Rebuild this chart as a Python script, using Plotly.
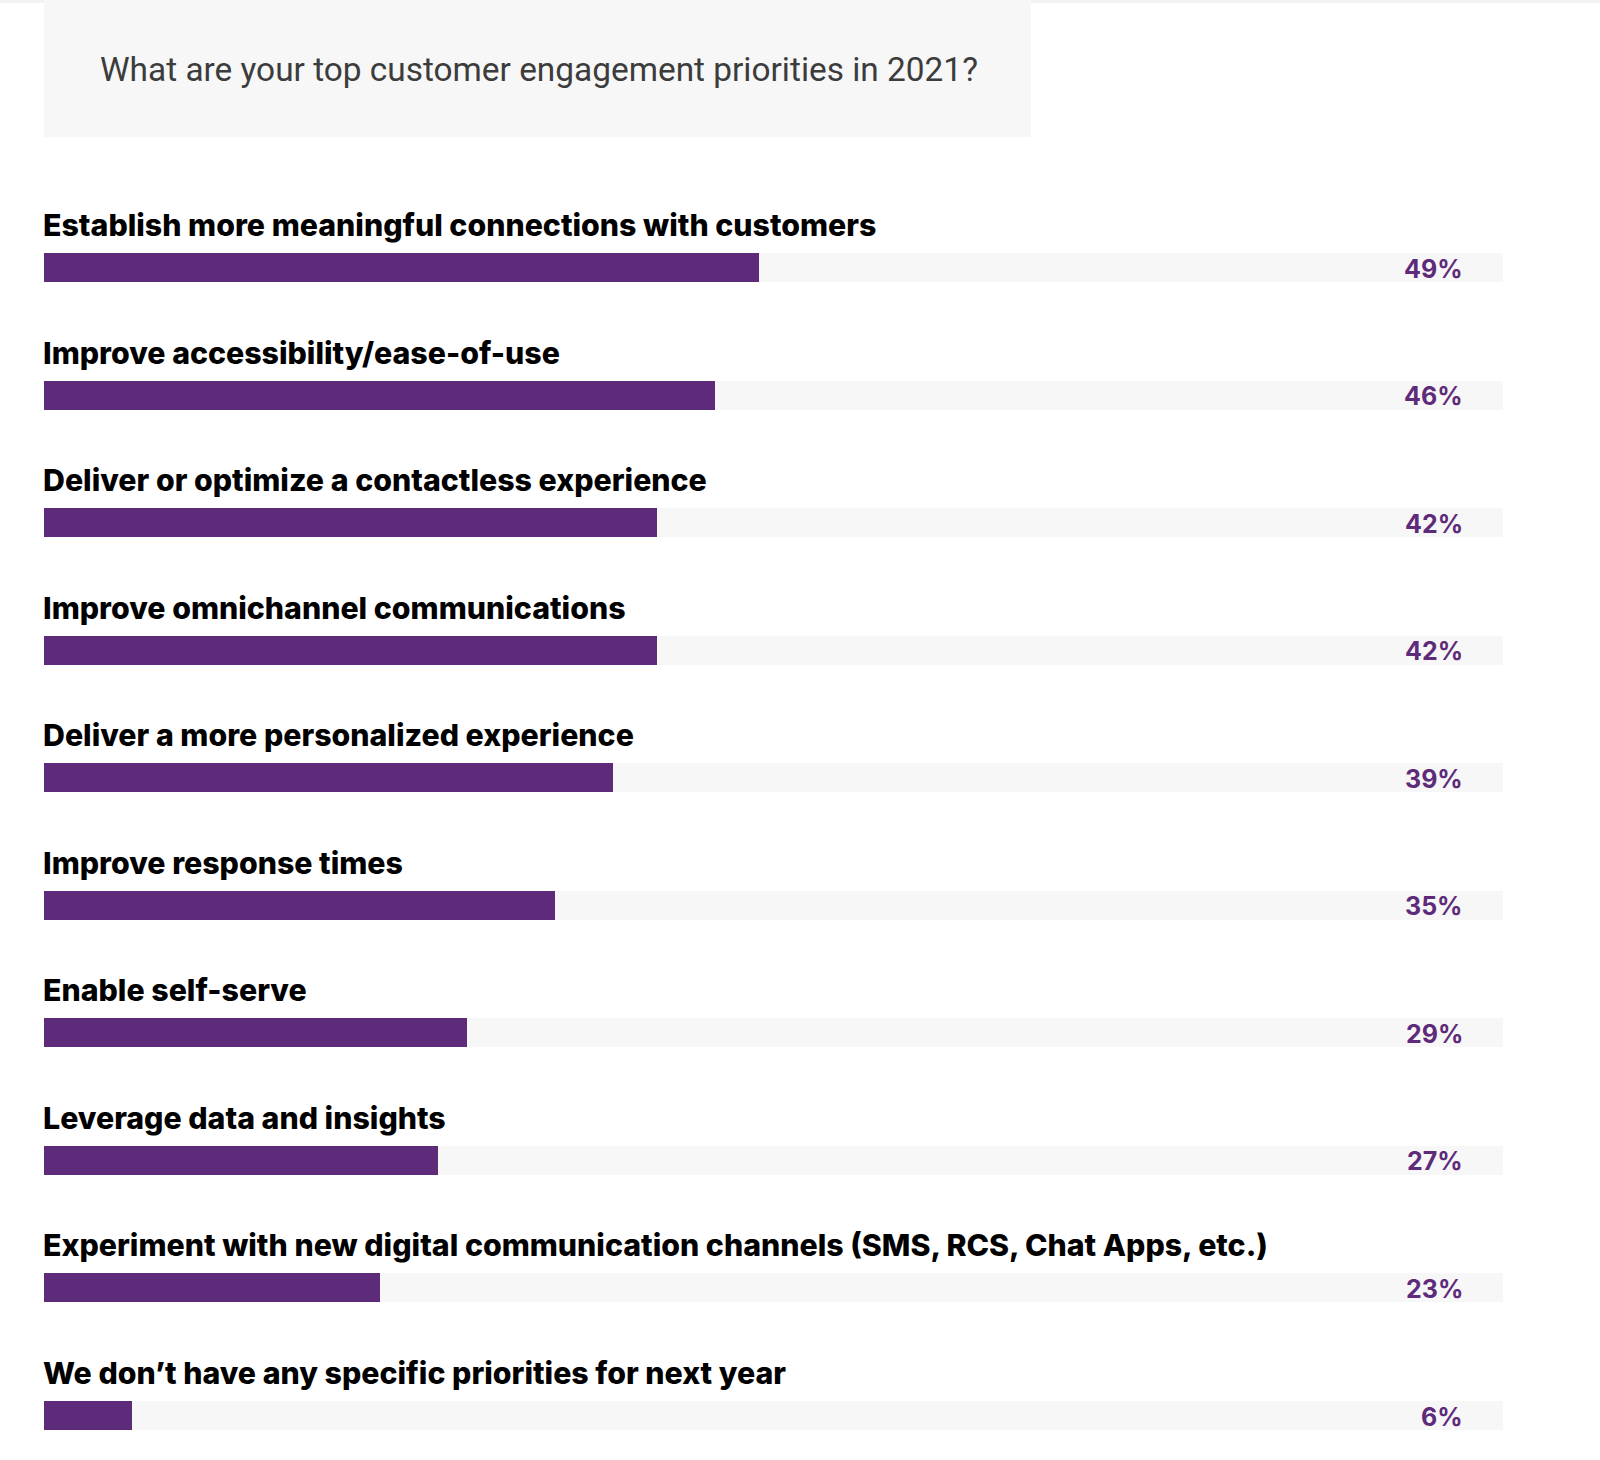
import plotly.graph_objects as go

categories = [
    "Establish more meaningful connections with customers",
    "Improve accessibility/ease-of-use",
    "Deliver or optimize a contactless experience",
    "Improve omnichannel communications",
    "Deliver a more personalized experience",
    "Improve response times",
    "Enable self-serve",
    "Leverage data and insights",
    "Experiment with new digital communication channels (SMS, RCS, Chat Apps, etc.)",
    "We don\u2019t have any specific priorities for next year",
]
values = [49, 46, 42, 42, 39, 35, 29, 27, 23, 6]
title_text = "What are your top customer engagement priorities in 2021?"

W, H = 1600, 1460
PURPLE = "#5e2b7a"
LIGHT = "#f7f7f7"

# pixel geometry
x_left_px, x_right_px = 44, 1503
first_center_px, step_px = 267.5, 127.56
bar_h_px = 29

px_per_unit = (x_right_px - x_left_px) / 100.0
xa = -x_left_px / px_per_unit
xb = xa + W / px_per_unit
y_top = -first_center_px / step_px
y_bot = (H - first_center_px) / step_px
bw = bar_h_px / step_px

idx = list(range(len(categories)))

fig = go.Figure()
fig.add_trace(go.Bar(
    x=[100] * len(idx), y=idx, orientation="h", width=bw,
    marker=dict(color=LIGHT, line=dict(width=0)), hoverinfo="skip", showlegend=False,
))
fig.add_trace(go.Bar(
    x=values, y=idx, orientation="h", width=bw,
    marker=dict(color=PURPLE, line=dict(width=0)), showlegend=False,
    hovertext=categories, hoverinfo="text+x",
))

annotations = []
for i, (c, v) in enumerate(zip(categories, values)):
    annotations.append(dict(
        x=0, y=i, xref="x", yref="y", text=c, showarrow=False,
        xanchor="left", yanchor="bottom", yshift=bar_h_px / 2 + 8, xshift=-3,
        font=dict(family="Inter", size=30.3, color="#000000", weight=800),
    ))
    annotations.append(dict(
        x=100, y=i, xref="x", yref="y", text=f"{v}%", showarrow=False,
        xanchor="right", yanchor="middle", xshift=-38, yshift=-1,
        font=dict(family="Inter", size=25, color=PURPLE, weight=700),
    ))
annotations.append(dict(
    x=98 / W, y=1 - 70 / H, xref="paper", yref="paper", text=title_text,
    showarrow=False, xanchor="left", yanchor="middle",
    font=dict(family="Roboto", size=33.4, color="#3c3c3c"),
))

shapes = [
    dict(type="rect", xref="paper", yref="paper", x0=0, x1=1, y0=1 - 3 / H, y1=1,
         fillcolor="#f2f2f2", line=dict(width=0), layer="below"),
    dict(type="rect", xref="paper", yref="paper", x0=44 / W, x1=1031 / W,
         y0=1 - 137 / H, y1=1, fillcolor=LIGHT, line=dict(width=0), layer="below"),
]

fig.update_layout(
    width=W, height=H, margin=dict(l=0, r=0, t=0, b=0),
    paper_bgcolor="white", plot_bgcolor="white",
    barmode="overlay", bargap=0,
    xaxis=dict(range=[xa, xb], visible=False, fixedrange=True),
    yaxis=dict(range=[y_bot, y_top], visible=False, fixedrange=True),
    annotations=annotations, shapes=shapes,
)

fig.write_html(
    "out.html",
    config={"displayModeBar": False},
    post_script="document.body.style.margin='0';document.body.style.overflow='hidden';",
)
